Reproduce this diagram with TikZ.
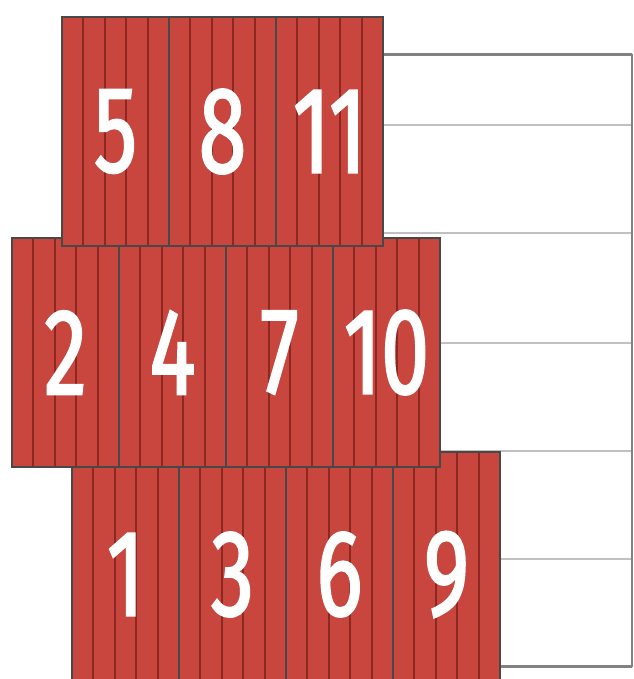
\documentclass[tikz,border=0pt]{standalone}
\usepackage{fontspec}
\newfontfamily\digitfont[FakeStretch=0.7,FakeBold=1.6]{Fira Sans}
\definecolor{panelred}{RGB}{200,70,62}
\definecolor{stripered}{RGB}{140,40,34}
\definecolor{edgegray}{RGB}{72,72,72}
\definecolor{rulegray}{RGB}{192,192,192}
\definecolor{framegray}{RGB}{130,130,130}

\tikzset{
  panel/.style={draw=edgegray, line width=1.6pt, fill=panelred,
    minimum width=107pt, minimum height=229pt, inner sep=0pt,
    text=white, font=\digitfont\fontsize{123}{123}\selectfont,
    path picture={\foreach \k in {1,...,4}
      {\draw[stripered, line width=2pt]
        ([xshift=\k*21.4pt]path picture bounding box.north west) --
        ([xshift=\k*21.4pt]path picture bounding box.south west);}}},
}

\begin{document}
\begin{tikzpicture}[x=1pt,y=-1pt]
 \useasboundingbox (0,0) rectangle (633,679);
 % shelf frame behind the stacks
 \foreach \y in {125,233,343,451,559}
   {\draw[rulegray, line width=1.4pt] (300,\y) -- (632,\y);}
 \draw[framegray, line width=3pt] (300,55) -- (632,55);
 \draw[framegray, line width=3pt] (300,666) -- (632,666);
 \draw[framegray, line width=1.8pt] (632,54) -- (632,667);
 % bottom row first, then middle, then top
 \foreach \n [count=\i from 0] in {1,3,6,9}
   {\node[panel, minimum height=245pt] (p\n) at (125.5+107*\i,574.5) {\n};}
 \foreach \n [count=\i from 0] in {2,4,7,10}
   {\node[panel] (p\n) at (65.5+107*\i,352.5) {\n};}
 \foreach \n [count=\i from 0] in {5,8,11}
   {\node[panel] (p\n) at (115.5+107*\i,131.5) {\n};}
\end{tikzpicture}
\end{document}
